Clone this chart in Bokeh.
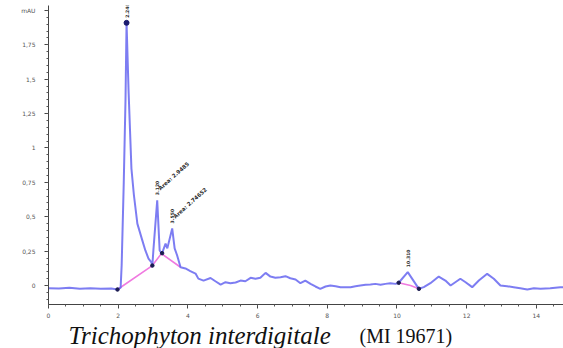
from bokeh.plotting import figure
from bokeh.layouts import column
from bokeh.models import FixedTicker, Range1d
from bokeh.core.properties import value
from bokeh.embed import file_html
from bokeh.resources import INLINE
import math

# Chromatogram trace: retention time (min) and absorbance (mAU)
time_min = [0.00, 0.30, 0.60, 0.90, 1.20, 1.50, 1.80, 1.98, 2.07, 2.10, 2.16, 2.21, 2.24,
            2.30, 2.38, 2.45, 2.55, 2.69, 2.78, 2.87, 2.95, 2.98, 3.01, 3.12, 3.19, 3.23,
            3.26, 3.36, 3.41, 3.55, 3.62, 3.69, 3.79, 3.93, 4.07, 4.22, 4.30, 4.45, 4.65,
            4.79, 4.94, 5.08, 5.22, 5.37, 5.51, 5.65, 5.80, 5.94, 6.08, 6.23, 6.37, 6.51,
            6.66, 6.80, 6.94, 7.09, 7.23, 7.37, 7.52, 7.66, 7.80, 7.95, 8.09, 8.24, 8.38,
            8.52, 8.67, 8.81, 8.95, 9.10, 9.24, 9.38, 9.53, 9.67, 9.81, 9.96, 10.05, 10.31,
            10.63, 10.77, 10.96, 11.20, 11.39, 11.54, 11.82, 11.97, 12.16, 12.35, 12.59,
            12.78, 12.97, 13.16, 13.35, 13.54, 13.74, 13.93, 14.12, 14.40, 14.69, 14.78]
absorbance = [-0.020, -0.022, -0.017, -0.023, -0.019, -0.024, -0.021, -0.029, -0.015, 0.15,
              0.75, 1.35, 1.91, 1.40, 0.85, 0.66, 0.45, 0.33, 0.255, 0.196, 0.17, 0.145,
              0.255, 0.62, 0.255, 0.24, 0.235, 0.305, 0.27, 0.415, 0.27, 0.22, 0.133,
              0.124, 0.105, 0.087, 0.050, 0.036, 0.055, 0.031, 0.007, 0.024, 0.017, 0.022,
              0.036, 0.031, 0.056, 0.049, 0.056, 0.092, 0.065, 0.056, 0.060, 0.068, 0.053,
              0.044, 0.017, 0.036, 0.012, -0.007, -0.024, -0.007, 0.000, -0.005, -0.012,
              -0.012, -0.012, -0.005, 0.000, 0.005, 0.007, 0.012, 0.005, 0.012, 0.017,
              0.012, 0.020, 0.097, -0.024, -0.012, 0.017, 0.065, 0.036, 0.000, 0.049,
              0.024, -0.012, 0.036, 0.085, 0.049, 0.000, -0.005, -0.012, -0.020, -0.029,
              -0.020, -0.024, -0.020, -0.012, -0.012]

# Integration baselines
base1_t = [1.98, 2.98, 3.24, 3.79]
base1_v = [-0.029, 0.145, 0.232, 0.133]
base2_t = [10.05, 10.39, 10.63]
base2_v = [0.020, 0.000, -0.024]

# Integration start/end markers
marker_t = [1.98, 2.98, 3.26, 10.05, 10.63]
marker_v = [-0.029, 0.145, 0.235, 0.020, -0.024]

# Detected peaks
peak_rt = [2.24, 3.12, 3.55, 10.31]
peak_height = [1.91, 0.62, 0.415, 0.097]
peak_area_rt = [3.12, 3.55]
peak_area_h = [0.62, 0.415]
peak_area_text = ["Area: 2.9485", "Area: 2.74652"]

# Axis ticks
y_ticks = [0, 0.25, 0.5, 0.75, 1, 1.25, 1.5, 1.75, 2]
y_tick_labels = ["0", "0,25", "0,5", "0,75", "1", "1,25", "1,5", "1,75", "mAU"]
x_ticks = [0, 2, 4, 6, 8, 10, 12, 14]

# Caption pieces
caption_species = "Trichophyton interdigitale"
caption_strain = "(MI 19671)"

p = figure(width=563, height=322, x_range=Range1d(0, 14.78), y_range=Range1d(-0.138, 2.036),
           output_backend="svg", toolbar_location=None,
           min_border_left=48, min_border_right=0, min_border_top=5, min_border_bottom=18)
p.outline_line_color = None
p.xgrid.visible = False
p.ygrid.visible = False
p.background_fill_color = "white"

# Axes
for ax in (p.xaxis[0], p.yaxis[0]):
    ax.axis_line_color = "#444444"
    ax.major_tick_line_color = "#444444"
    ax.minor_tick_line_color = "#555555"
    ax.major_label_text_color = "#555555"
    ax.major_label_text_font = "DejaVu Sans"
    ax.major_label_text_font_size = "6px"
    ax.major_tick_out = 4
    ax.major_tick_in = 0
    ax.minor_tick_out = 2
    ax.minor_tick_in = 0

p.yaxis.ticker = FixedTicker(ticks=y_ticks,
                             minor_ticks=[i * 0.05 for i in range(-2, 41)])
p.yaxis.major_label_overrides = dict(zip(y_ticks, y_tick_labels))
p.yaxis.major_label_standoff = 9
p.xaxis.ticker = FixedTicker(ticks=x_ticks,
                             minor_ticks=[i * 0.5 for i in range(0, 30)])
p.xaxis.major_label_standoff = 4

# Baselines and trace
p.line(base1_t, base1_v, line_color="#f07ae0", line_width=1.6)
p.line(base2_t, base2_v, line_color="#f07ae0", line_width=1.6)
p.line(time_min, absorbance, line_color="#6666f0", line_width=2.0, line_alpha=0.85)
p.scatter(marker_t, marker_v, size=3.5, color="#1c1c50")
p.scatter([peak_rt[0]], [peak_height[0]], size=5, color="#1c1c70")

# Retention time labels above the peaks
p.text(peak_rt, peak_height, text=[f"{t:.3f}" for t in peak_rt], angle=math.pi / 2,
       text_align="left", text_baseline="middle", y_offset=-5,
       text_font=value("DejaVu Sans"), text_font_size="4.6px", text_font_style="bold",
       text_color="#2a2a2a")
p.text(peak_area_rt, peak_area_h, text=peak_area_text, angle=math.radians(42),
       text_align="left", text_baseline="bottom", x_offset=4, y_offset=-9,
       text_font=value("DejaVu Sans"), text_font_size="5.4px", text_font_style="bold",
       text_color="#2a2a2a")

# Caption strip below the chart; its frame lines up with the chart frame
cap = figure(width=563, height=26, x_range=Range1d(48, 563), y_range=Range1d(0, 26),
             output_backend="svg", toolbar_location=None,
             min_border_left=48, min_border_right=0, min_border_top=0, min_border_bottom=0)
cap.axis.visible = False
cap.grid.visible = False
cap.outline_line_color = None
cap.text([68], [13], text=[caption_species], text_font=value("Liberation Serif"),
         text_font_style="italic", text_font_size="25px", text_color="#111111",
         text_baseline="alphabetic")
cap.text([359], [13], text=[caption_strain], text_font=value("Liberation Serif"),
         text_font_size="20px", text_color="#111111", text_baseline="alphabetic")

open("out.html", "w").write(file_html(column(p, cap, spacing=0), INLINE))
